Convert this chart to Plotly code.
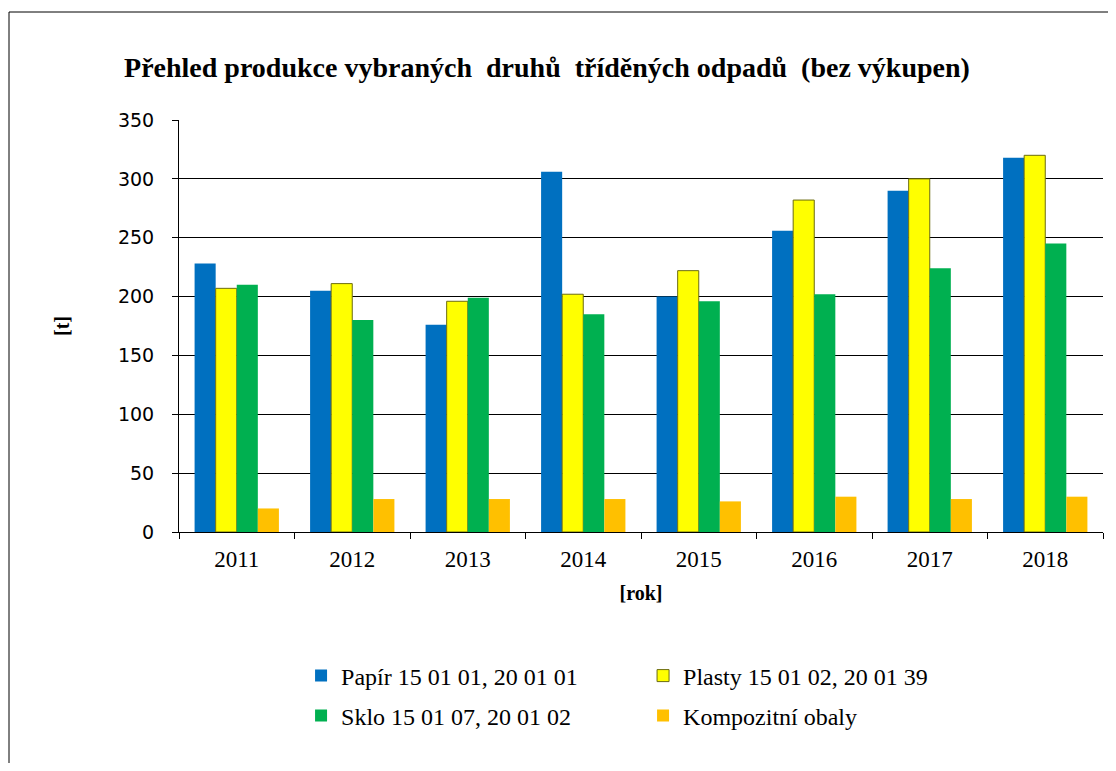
import plotly.graph_objects as go

# data
years = ["2011", "2012", "2013", "2014", "2015", "2016", "2017", "2018"]
papir = [228, 205, 176, 306, 200, 256, 290, 318]
plasty = [207, 211, 196, 202, 222, 282, 300, 320]
sklo = [210, 180, 199, 185, 196, 202, 224, 245]
kompozit = [20, 28, 28, 28, 26, 30, 28, 30]

series_names = ["Papír 15 01 01, 20 01 01", "Plasty 15 01 02, 20 01 39",
                "Sklo 15 01 07, 20 01 02", "Kompozitní obaly"]

serif = "Liberation Serif"

# page body has an 8px margin, so the figure is a bit smaller than the window
W, H = 1100, 755
L, T, PW, PH = 171, 112, 924, 412   # plot area in figure pixels

fig = go.Figure()
fig.add_trace(go.Bar(x=years, y=papir, name=series_names[0], marker=dict(color="#0070C0", line=dict(width=0)),
                     legend="legend"))
fig.add_trace(go.Bar(x=years, y=plasty, name=series_names[1],
                     marker=dict(color="#FFFF00", line=dict(width=1, color="#6b6b10")), legend="legend"))
fig.add_trace(go.Bar(x=years, y=sklo, name=series_names[2], marker=dict(color="#00B050", line=dict(width=0)),
                     legend="legend2"))
fig.add_trace(go.Bar(x=years, y=kompozit, name=series_names[3], marker=dict(color="#FFC000", line=dict(width=0)),
                     legend="legend2"))

fig.update_layout(
    width=W, height=H,
    margin=dict(l=L, r=W - L - PW, t=T, b=H - T - PH),
    paper_bgcolor="white", plot_bgcolor="white",
    barmode="group", bargap=0.27, bargroupgap=0,
    title=dict(text="<b>Přehled produkce vybraných \u00a0druhů \u00a0tříděných odpadů \u00a0(bez výkupen)</b>",
               x=539 / W, xanchor="center", xref="container",
               y=1 - 59 / H, yanchor="middle", yref="container",
               font=dict(family=serif, size=28, color="black")),
    legend=dict(orientation="h", x=0.1321, xanchor="left", y=(PH - (676 - 8 - T)) / PH, yanchor="middle",
                entrywidth=297, font=dict(family=serif, size=24, color="black"), traceorder="normal"),
    legend2=dict(orientation="h", x=0.1321, xanchor="left", y=(PH - (716 - 8 - T)) / PH, yanchor="middle",
                 entrywidth=297, font=dict(family=serif, size=24, color="black"), traceorder="normal"),
    showlegend=True,
)

fig.update_yaxes(range=[0, 350], dtick=50, showgrid=True, gridcolor="black", gridwidth=1,
                 showline=True, linecolor="black", linewidth=1, ticks="outside", ticklen=6,
                 tickcolor="black", ticklabelstandoff=14,
                 tickfont=dict(family="DejaVu Sans", size=19, color="black"),
                 title=dict(text="<b>[t]</b>", standoff=42, font=dict(family=serif, size=20, color="black")),
                 zeroline=False)
fig.update_xaxes(showline=True, linecolor="black", linewidth=1, ticks="outside", ticklen=6,
                 tickcolor="black", tickson="boundaries", showgrid=False, ticklabelstandoff=6,
                 tickfont=dict(family=serif, size=23, color="black"),
                 title=dict(text="<b>[rok]</b>", standoff=15, font=dict(family=serif, size=20, color="black")))

# outer frame of the original sheet: only its top and left edges are in view
frame_top = (T + PH - 4) / PH
frame_left = (1 - L) / PW
fig.add_shape(type="line", xref="paper", yref="paper", x0=frame_left, x1=(W + 40 - L) / PW,
              y0=frame_top, y1=frame_top, line=dict(color="black", width=1))
fig.add_shape(type="line", xref="paper", yref="paper", x0=frame_left, x1=frame_left,
              y0=frame_top, y1=(T + PH - (H + 40)) / PH, line=dict(color="black", width=1))

fig.write_html("out.html")
